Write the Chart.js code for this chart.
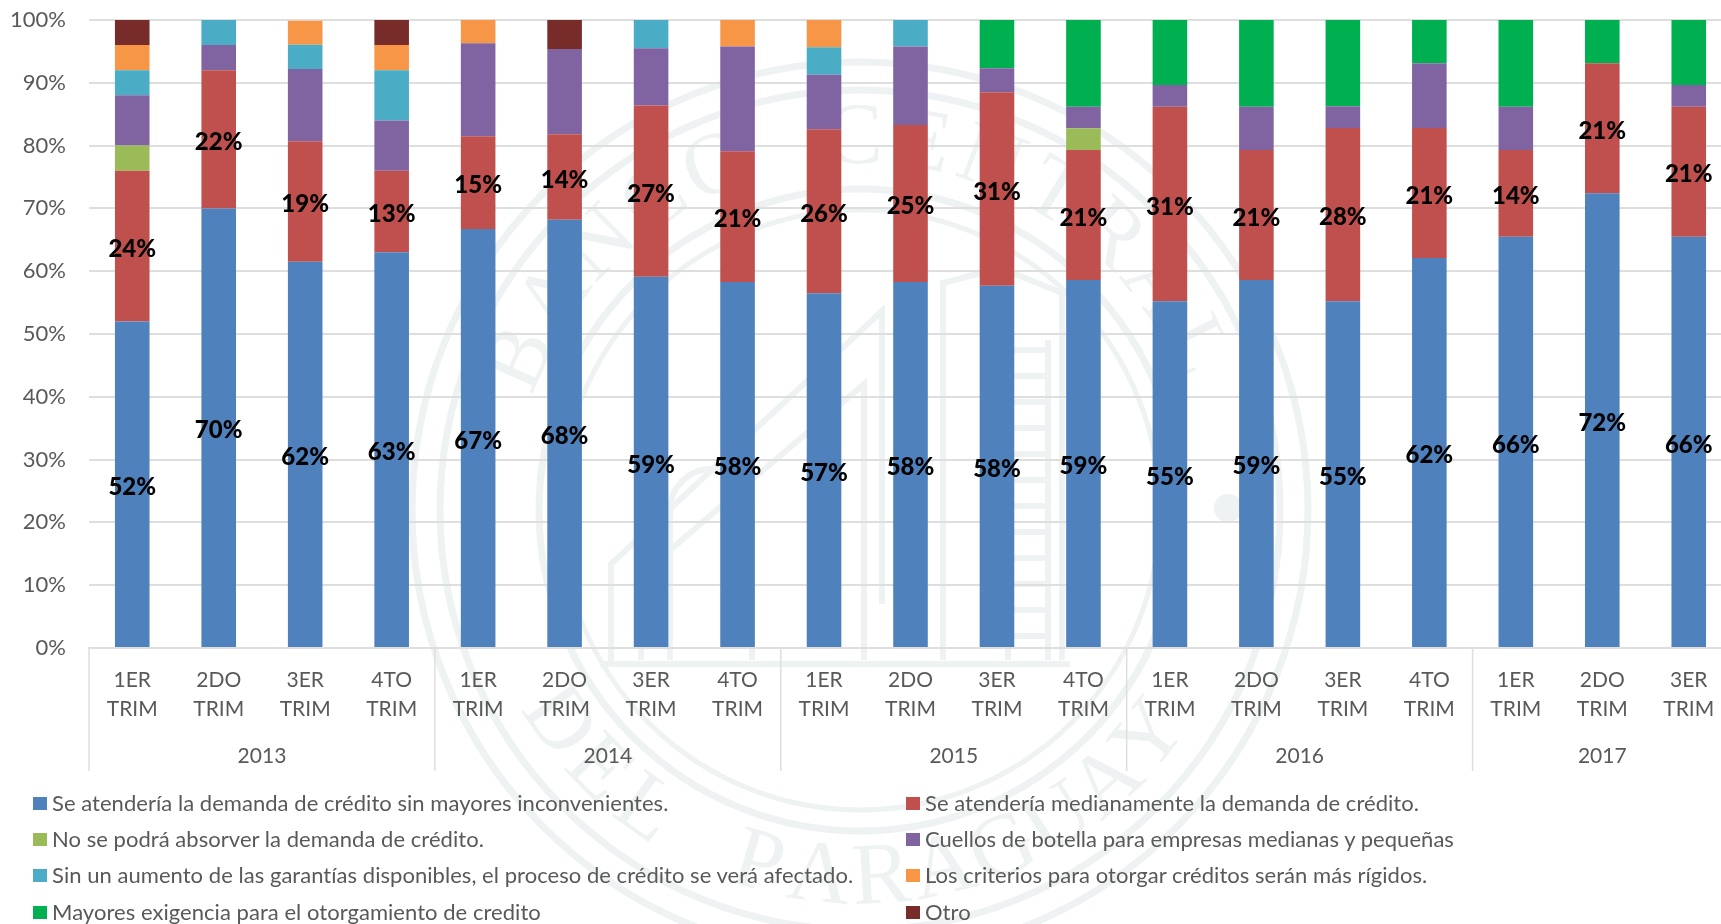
<!DOCTYPE html>
<html lang="es">
<head>
    <meta charset="UTF-8">
    <title>Demanda de crédito</title>
    <script src="https://cdn.jsdelivr.net/npm/chart.js"></script>
    <style>
        html, body { margin: 0; padding: 0; width: 1721px; height: 924px; overflow: hidden; background: #fff; }
        #wrap { position: relative; width: 1721px; height: 924px; overflow: hidden; }
        canvas { position: absolute; left: 0; top: 0; }
        #legend { position: absolute; left: 0; top: 0; font-family: Lato, sans-serif; font-size: 22px; color: #595959; }
        .item { position: absolute; white-space: nowrap; line-height: 28px; height: 28px; }
        .item i { position: absolute; left: 0; top: 7px; width: 14px; height: 13px; }
        .item span { position: absolute; left: 19px; top: -1px; letter-spacing: 0.04px; }
    </style>
</head>
<body>
<div id="wrap">
    <canvas id="myChart" width="1732" height="924"></canvas>
    <div id="legend"></div>
</div>
<script>
    const quarters = ['1ER', '2DO', '3ER', '4TO', '1ER', '2DO', '3ER', '4TO', '1ER', '2DO', '3ER', '4TO', '1ER', '2DO', '3ER', '4TO', '1ER', '2DO', '3ER'];
    const years = ['2013', '2014', '2015', '2016', '2017'];
    const quartersPerYear = [4, 4, 4, 4, 3];

    const sinInconvenientes = [52, 70, 61.5, 63, 66.7, 68.2, 59.1, 58.3, 56.5, 58.3, 57.7, 58.6, 55.2, 58.6, 55.2, 62.1, 65.5, 72.4, 65.5];
    const medianamente = [24, 22, 19.2, 13, 14.8, 13.6, 27.3, 20.8, 26.1, 25, 30.8, 20.7, 31, 20.7, 27.6, 20.7, 13.8, 20.7, 20.7];
    const noAbsorber = [4, 0, 0, 0, 0, 0, 0, 0, 0, 0, 0, 3.45, 0, 0, 0, 0, 0, 0, 0];
    const cuellosBotella = [8, 4, 11.5, 8, 14.8, 13.6, 9.1, 16.7, 8.7, 12.5, 3.8, 3.45, 3.45, 6.9, 3.45, 10.3, 6.9, 0, 3.45];
    const garantias = [4, 4, 3.85, 8, 0, 0, 4.5, 0, 4.35, 4.2, 0, 0, 0, 0, 0, 0, 0, 0, 0];
    const masRigidos = [4, 0, 3.85, 4, 3.7, 0, 0, 4.2, 4.35, 0, 0, 0, 0, 0, 0, 0, 0, 0, 0];
    const mayoresExigencia = [0, 0, 0, 0, 0, 0, 0, 0, 0, 0, 7.7, 13.8, 10.35, 13.8, 13.8, 6.9, 13.8, 6.9, 10.35];
    const otro = [4, 0, 0, 4, 0, 4.6, 0, 0, 0, 0, 0, 0, 0, 0, 0, 0, 0, 0, 0];

    const seriesNames = [
        'Se atendería la demanda de crédito sin mayores inconvenientes.',
        'Se atendería medianamente la demanda de crédito.',
        'No se podrá absorver la demanda de crédito.',
        'Cuellos de botella para empresas medianas y pequeñas',
        'Sin un aumento de las garantías disponibles, el proceso de crédito se verá afectado.',
        'Los criterios para otorgar créditos serán más rígidos.',
        'Mayores exigencia para el otorgamiento de credito',
        'Otro'
    ];
    const seriesValues = [sinInconvenientes, medianamente, noAbsorber, cuellosBotella, garantias, masRigidos, mayoresExigencia, otro];
    const seriesColors = ['#4F81BD', '#C0504D', '#9BBB59', '#8064A2', '#4BACC6', '#F79646', '#00B050', '#772C2A'];

    const textFont = 'Lato, sans-serif';
    const gridColor = '#DEDEDE';
    const sealColor = '#EEF2F2';

    // sello de fondo
    function arcText(ctx, text, cx, cy, r, from, to, bottom) {
        const chars = text.split('');
        chars.forEach((c, i) => {
            const a = (from + (to - from) * i / (chars.length - 1)) * Math.PI / 180;
            ctx.save();
            ctx.translate(cx + r * Math.cos(a), cy + r * Math.sin(a));
            ctx.rotate(bottom ? a - Math.PI / 2 : a + Math.PI / 2);
            ctx.fillText(c, 0, 0);
            ctx.restore();
        });
    }

    function poly(ctx, pts) {
        ctx.beginPath();
        pts.forEach((p, i) => i ? ctx.lineTo(p[0], p[1]) : ctx.moveTo(p[0], p[1]));
        ctx.stroke();
    }

    const sealPlugin = {
        id: 'seal',
        beforeDraw(chart) {
            const ctx = chart.ctx;
            const cx = 860, cy = 510;
            ctx.save();
            ctx.strokeStyle = sealColor;
            ctx.fillStyle = sealColor;
            [[448, 7], [420, 7], [321, 7], [300, 5]].forEach(ring => {
                ctx.lineWidth = ring[1];
                ctx.beginPath();
                ctx.arc(cx, cy, ring[0], 0, Math.PI * 2);
                ctx.stroke();
            });
            ctx.font = '88px "Liberation Serif", serif';
            ctx.textAlign = 'center';
            ctx.textBaseline = 'middle';
            arcText(ctx, 'BANCO CENTRAL', cx, cy, 370, -156, -26, false);
            arcText(ctx, 'DEL PARAGUAY', cx, cy, 370, 145, 38, true);
            ctx.beginPath();
            ctx.arc(1228, 508, 14, 0, Math.PI * 2);
            ctx.fill();
            // edificio
            ctx.lineWidth = 6;
            poly(ctx, [[611, 666], [611, 564], [882, 311], [882, 604]]);
            poly(ctx, [[641, 660], [641, 575], [864, 384], [864, 660]]);
            poly(ctx, [[943, 660], [943, 283], [1000, 268], [1062, 293], [1062, 660]]);
            poly(ctx, [[600, 664], [1070, 664]]);
            poly(ctx, [[1008, 340], [1008, 660]]);
            poly(ctx, [[1048, 340], [1048, 660]]);
            for (let y = 350; y < 650; y += 26) {
                poly(ctx, [[1008, y], [1048, y]]);
            }
            ctx.beginPath();
            ctx.moveTo(670, 660);
            ctx.lineTo(670, 510);
            ctx.arc(711, 510, 41, Math.PI, 0);
            ctx.lineTo(752, 660);
            ctx.stroke();
            ctx.restore();
        }
    };

    // etiquetas de las dos primeras series
    const barLabels = {
        id: 'barLabels',
        afterDatasetsDraw(chart) {
            const ctx = chart.ctx;
            ctx.save();
            ctx.font = '900 24px ' + textFont;
            ctx.fillStyle = '#000';
            ctx.textAlign = 'center';
            ctx.textBaseline = 'middle';
            [0, 1].forEach(s => {
                chart.getDatasetMeta(s).data.forEach((bar, i) => {
                    const mid = (bar.y + bar.base) / 2;
                    ctx.fillText(Math.round(seriesValues[s][i]) + '%', bar.x, mid + 3);
                });
            });
            ctx.restore();
        }
    };

    // eje de años
    const yearAxis = {
        id: 'yearAxis',
        afterDraw(chart) {
            const ctx = chart.ctx;
            const x = chart.scales.x;
            const step = x.getPixelForValue(1) - x.getPixelForValue(0);
            const bottom = chart.chartArea.bottom;
            let start = 0;
            ctx.save();
            ctx.font = '21px ' + textFont;
            ctx.fillStyle = '#595959';
            ctx.textAlign = 'center';
            ctx.textBaseline = 'middle';
            years.forEach((year, i) => {
                const left = x.getPixelForValue(start) - step / 2;
                const right = left + quartersPerYear[i] * step;
                ctx.strokeStyle = gridColor;
                ctx.lineWidth = 1.5;
                ctx.beginPath();
                ctx.moveTo(left, bottom);
                ctx.lineTo(left, bottom + 123);
                ctx.stroke();
                ctx.fillText(year, (left + right) / 2, bottom + 108);
                start += quartersPerYear[i];
            });
            ctx.restore();
        }
    };

    const chart = new Chart(document.getElementById('myChart').getContext('2d'), {
        type: 'bar',
        data: {
            labels: quarters.map(q => [q, 'TRIM']),
            datasets: seriesNames.map((name, i) => ({
                label: name,
                data: seriesValues[i],
                backgroundColor: seriesColors[i],
                borderWidth: 0,
                barPercentage: 0.4,
                categoryPercentage: 1
            }))
        },
        options: {
            responsive: false,
            animation: false,
            layout: { padding: { top: 20, left: 0, right: 0, bottom: 0 } },
            plugins: {
                legend: { display: false },
                tooltip: { enabled: false }
            },
            scales: {
                x: {
                    stacked: true,
                    afterFit(scale) { scale.height = 276; },
                    grid: { display: false },
                    border: { color: gridColor, width: 2 },
                    ticks: {
                        color: '#595959',
                        maxRotation: 0,
                        autoSkip: false,
                        padding: 10,
                        font: { family: textFont, size: 21, lineHeight: 1.36 }
                    }
                },
                y: {
                    stacked: true,
                    min: 0,
                    max: 100,
                    afterFit(scale) {
                        scale.width = 89;
                        // el padding de las etiquetas empujaba el área hacia abajo
                        scale.paddingTop = 0;
                        scale.paddingBottom = 0;
                    },
                    grid: { color: gridColor, lineWidth: 2, drawTicks: false },
                    border: { display: false },
                    ticks: {
                        stepSize: 10,
                        padding: 23,
                        color: '#595959',
                        font: { family: textFont, size: 22 },
                        callback: v => v + '%'
                    }
                }
            }
        },
        plugins: [sealPlugin, barLabels, yearAxis]
    });

    // leyenda en dos columnas
    const legend = document.getElementById('legend');
    const legendX = [33, 906];
    const legendY = [790, 826, 862, 899];
    chart.data.datasets.forEach((ds, i) => {
        const item = document.createElement('div');
        item.className = 'item';
        item.style.left = legendX[i % 2] + 'px';
        item.style.top = legendY[Math.floor(i / 2)] + 'px';
        const box = document.createElement('i');
        box.style.background = ds.backgroundColor;
        const text = document.createElement('span');
        text.textContent = ds.label;
        item.appendChild(box);
        item.appendChild(text);
        legend.appendChild(item);
    });
</script>
</body>
</html>
